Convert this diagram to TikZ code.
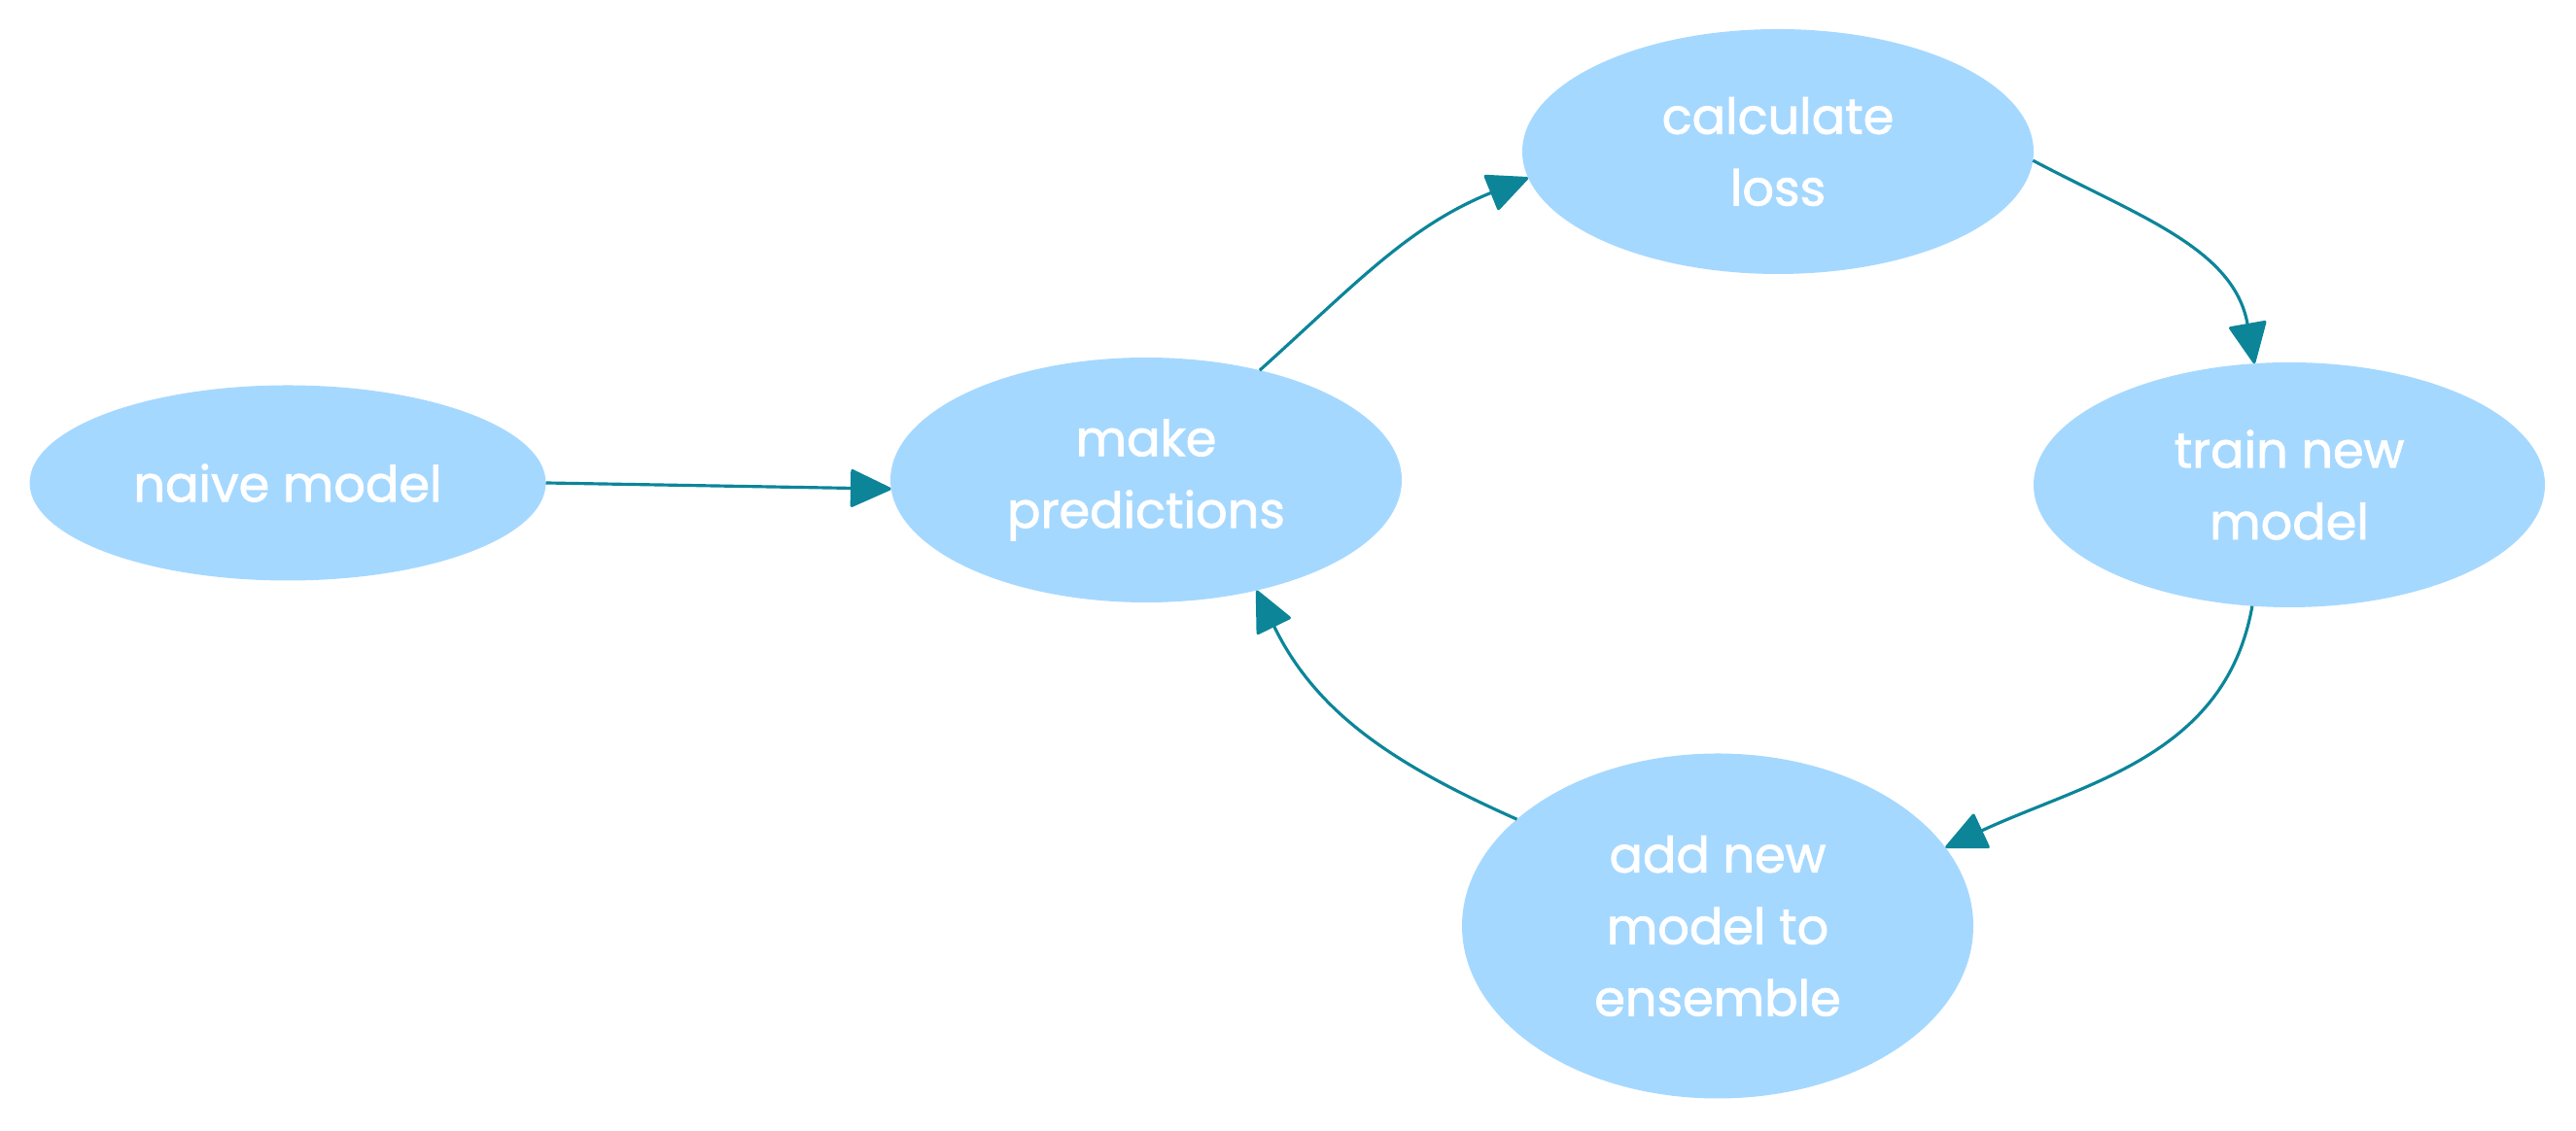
\documentclass[tikz,border=0pt]{standalone}
\usepackage{fontspec}
\setmainfont{Poppins}
\newfontfamily\stagefont[FakeBold=1.6]{Poppins}
\usetikzlibrary{shapes.geometric,arrows.meta}
\definecolor{stagefill}{HTML}{A5D8FF}
\definecolor{flowline}{HTML}{0C8599}
\tikzset{%
    stage/.style={%
        ellipse, fill=stagefill, draw=none, inner sep=0pt, outer sep=0pt,
        minimum width=5.26cm, minimum height=2.52cm, text=white, align=center,
        font=\stagefont\fontsize{14.5}{21}\selectfont
    },
    flow/.style={%
        draw=flowline, line width=0.9pt,
        -{Triangle[length=4.4mm, width=4mm, round]}
    },
}
\begin{document}
\begin{tikzpicture}
      \useasboundingbox (0,0) rectangle (26.5,11.64);
      \node[stage, minimum width=5.31cm, minimum height=2.01cm] (naive) at (2.96,6.67) {naive model};
      \node[stage] (pred) at (11.79,6.70) {make\\predictions};
      \node[stage] (loss) at (18.29,10.08) {calculate\\ loss};
      \node[stage] (train) at (23.55,6.65) {train new\\ model};
      \node[stage, minimum height=3.55cm] (ens) at (17.67,2.11) {add new\\model to\\ ensemble};

      \draw[flow] (naive.east) -- (pred.182);
      \draw[flow] (pred.44) to[out=42, in=202] (loss.186);
      \draw[flow] (loss.-2) to[out=-28, in=100] (train.106);
      \draw[flow] (train.253) to[out=-100, in=25] (ens.19);
      \draw[flow] (ens.152) to[out=156, in=-64] (pred.-45);
    \end{tikzpicture}
\end{document}
